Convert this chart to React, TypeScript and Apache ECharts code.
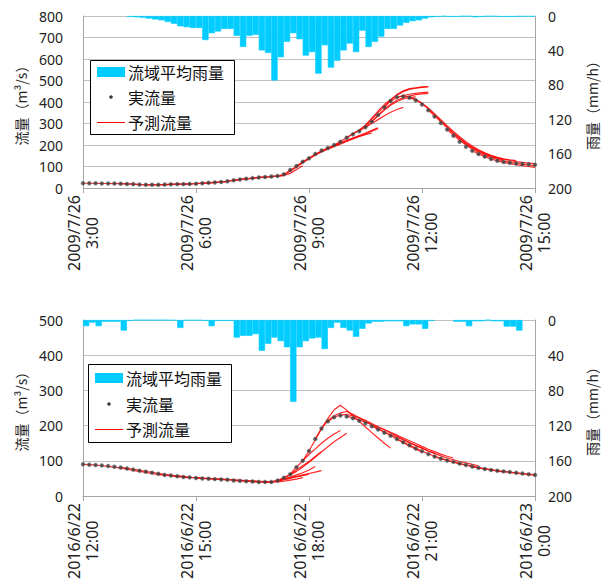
import React, { useEffect, useRef } from 'react';
import * as echarts from 'echarts';

// ---------- Data ----------
const xLabels1 = ['2009/7/26\n3:00', '2009/7/26\n6:00', '2009/7/26\n9:00', '2009/7/26\n12:00', '2009/7/26\n15:00'];
const xLabels2 = ['2016/6/22\n12:00', '2016/6/22\n15:00', '2016/6/22\n18:00', '2016/6/22\n21:00', '2016/6/23\n0:00'];

// 10-minute basin-average rainfall (mm/h), 72 intervals
const rain1 = [0, 0, 0, 0, 0, 0, 0, 1, 1.5, 2, 3, 4, 5, 7, 9, 12, 13, 14, 14, 28, 20, 18, 15, 15, 23, 36, 23, 22, 40, 43, 75, 48, 30, 20, 27, 46, 42, 67, 34, 60, 52, 40, 32, 42, 17, 36, 30, 24, 15, 15, 11, 8, 6, 5, 3, 1.5, 1, 0.5, 1, 1, 0.5, 0.5, 1.5, 1, 0.5, 0.5, 1, 1, 1, 0.7, 0.7, 0.7];
const rain2 = [7, 3, 7, 2, 2, 2, 12, 1, 0.3, 0.3, 0.3, 0.3, 0.3, 0.3, 0.5, 9, 0.5, 0.5, 0.5, 1, 7, 1, 1, 1, 20, 18, 18, 16, 35, 27, 20, 24, 31, 93, 31, 24, 21, 20, 33, 9, 3, 9, 12, 19, 10, 4, 2, 2, 1.5, 1.5, 1.5, 7, 5, 5, 10, 1, 0, 0, 0, 2, 2, 7, 1.5, 1.5, 0.3, 1.5, 1.5, 7.5, 7.5, 12, 0, 0];

// Observed flow (m3/s) every 10 minutes, 73 points
const obs1 = [22, 22, 22, 21, 21, 21, 20, 19, 18, 16, 15, 15, 15, 16, 17, 18, 18, 19, 20, 22, 24, 26, 28, 31, 36, 40, 43, 46, 49, 51, 53, 56, 64, 84, 102, 122, 138, 158, 174, 186, 200, 215, 234, 250, 264, 283, 308, 340, 375, 405, 423, 426, 420, 408, 388, 362, 333, 302, 272, 243, 215, 192, 173, 158, 146, 135, 127, 121, 117, 114, 112, 110, 108];
const obs2 = [90, 89, 88, 87, 85, 83, 81, 78, 75, 72, 69, 66, 63, 60, 58, 56, 54, 53, 51, 50, 49, 48, 47, 46, 44, 43, 42, 41, 40, 40, 40, 44, 52, 62, 82, 100, 128, 162, 192, 212, 224, 229, 226, 221, 214, 207, 198, 189, 180, 171, 162, 153, 144, 135, 127, 119, 112, 106, 101, 97, 92, 88, 84, 80, 77, 74, 72, 70, 68, 66, 64, 62, 60];

// Forecast runs: start index (10-min steps) and forecast values
const fcStarts1 = [0, 6, 12, 18, 24, 30, 34, 38, 40, 42, 44, 45, 46, 48, 50, 52, 55, 58, 62];
const fcValues1 = [
  [22, 22, 21, 21, 21, 20, 20, 19, 18, 16, 15, 15, 15, 16, 17, 17, 18, 18],
  [20, 19, 18, 16, 15, 15, 15, 16, 17, 18, 18, 19, 20, 22, 24, 26, 28, 30],
  [15, 16, 17, 18, 18, 19, 20, 22, 24, 26, 28, 31, 35, 39, 42, 45, 48, 50],
  [20, 22, 24, 26, 28, 31, 36, 40, 43, 46, 49, 51, 53, 55, 58, 68, 86, 104],
  [36, 40, 43, 46, 49, 51, 53, 55, 60, 78, 98, 118, 136, 154, 170, 184, 196, 208],
  [53, 56, 63, 82, 100, 120, 136, 154, 168, 180, 192, 204, 216, 228, 240, 252, 264, 276],
  [102, 122, 140, 158, 172, 184, 196, 208, 220, 232, 244, 256, 268, 280],
  [174, 186, 198, 210, 222, 232, 240, 248, 256],
  [200, 216, 234, 252, 270, 292, 320, 350, 380, 405, 420, 430, 436, 440, 444, 446],
  [234, 252, 268, 292, 325, 358, 388, 412, 432, 448, 458, 464, 468, 470],
  [264, 284, 310, 338, 366, 390, 408, 420, 428, 434, 438, 440],
  [283, 300, 318, 336, 352, 365, 375],
  [308, 336, 362, 385, 402, 414, 420, 424],
  [375, 408, 435, 452, 462, 466, 470, 472],
  [423, 428, 424, 412, 393, 368, 340, 312, 284, 256, 230, 206, 186, 170, 157, 146, 138, 131],
  [420, 410, 394, 372, 346, 318, 290, 263, 238, 215, 195, 178, 164, 152, 143, 136, 131, 127],
  [362, 336, 308, 280, 254, 230, 208, 190, 174, 161, 150, 141, 134, 128, 123, 119, 116, 113],
  [272, 246, 222, 200, 182, 166, 153, 142, 133, 126, 120, 115, 111, 107, 104],
  [173, 158, 146, 135, 126, 119, 113, 108, 104, 100, 96],
];

const fcStarts2 = [0, 6, 12, 18, 24, 27, 29, 30, 31, 33, 35, 37, 39, 42, 46, 50, 56, 62];
const fcValues2 = [
  [90, 89, 88, 86, 84, 82, 79, 76, 73, 70, 67, 64, 61, 59, 57, 55, 53, 52],
  [81, 79, 76, 73, 70, 67, 64, 61, 59, 57, 55, 53, 52, 50, 49, 48, 47, 46],
  [63, 61, 59, 57, 55, 53, 52, 51, 50, 49, 48, 47, 46, 45, 44, 43, 42, 41],
  [51, 50, 49, 48, 47, 46, 45, 44, 43, 42, 41, 40, 40, 40, 42, 45, 48, 52],
  [44, 43, 42, 41, 40, 40, 40, 42, 46, 50, 54, 58, 62],
  [41, 40, 40, 40, 43, 48, 52, 56, 60, 64, 68, 72],
  [40, 40, 43, 48, 54, 60, 66, 74, 84],
  [40, 44, 51, 60, 70, 82, 96, 110, 126],
  [44, 52, 62, 74, 86, 98, 112, 126, 140, 154, 166, 178],
  [62, 82, 100, 118, 134, 150, 164, 176, 186],
  [100, 128, 160, 192, 220, 245, 258, 244, 228, 212, 196, 180, 165, 150, 136],
  [162, 192, 214, 228, 236, 240, 232, 222, 212, 202, 192, 182, 172, 162, 152, 142, 133, 125],
  [212, 224, 230, 232, 228, 222, 215, 206, 197, 188, 179, 170, 161, 152, 144, 136, 128, 121],
  [227, 222, 216, 210, 203, 196, 189, 181, 173, 165, 157, 149, 141, 133, 126, 119, 113, 108],
  [198, 190, 182, 174, 167, 159, 151, 143, 136, 128, 121, 114, 108, 103, 98, 94, 90, 86],
  [162, 153, 144, 136, 128, 120, 113, 107, 102, 97, 92, 88, 84, 80, 77, 74, 71, 68],
  [112, 106, 101, 96, 92, 88, 84, 80, 77, 74, 71, 69, 67, 65, 63, 61, 60],
  [84, 80, 77, 74, 72, 70, 68, 66, 64, 62, 60],
];

const STEP = 10; // minutes
const FONT = "'Noto Sans', 'Noto Sans CJK JP', sans-serif";
const CJK = "'Noto Sans CJK JP', 'Noto Sans', sans-serif";
const RAIN_COLOR = '#00CCFF';
const AXIS_COLOR = '#A6A6A6';
const GRID_COLOR = '#C0C0C0';
const TEXT_COLOR = '#222222';

function buildOption() {
  const bins = rain1.map((_, i) => String(i));

  const valueX = (gridIndex: number, labels: string[]) => ({
    type: 'value',
    gridIndex,
    min: 0,
    max: 720,
    interval: 180,
    axisLine: { show: true, lineStyle: { color: AXIS_COLOR } },
    axisTick: { show: true, length: 5, lineStyle: { color: AXIS_COLOR } },
    splitLine: { show: false },
    axisLabel: {
      rotate: 90,
      align: 'center',
      verticalAlign: 'middle',
      margin: 45,
      fontSize: 16,
      lineHeight: 18,
      color: TEXT_COLOR,
      fontFamily: FONT,
      showMinLabel: true,
      showMaxLabel: true,
      formatter: (v: number) => labels[Math.round(v / 180)] ?? '',
    },
  });
  const catX = (gridIndex: number) => ({
    type: 'category',
    gridIndex,
    data: bins,
    boundaryGap: true,
    show: false,
  });
  const leftY = (gridIndex: number, max: number) => ({
    type: 'value',
    gridIndex,
    position: 'left',
    min: 0,
    max,
    interval: 100,
    name: '流量（m³/s）',
    nameLocation: 'middle',
    nameGap: 50,
    nameRotate: 90,
    nameTextStyle: { fontSize: 14, color: TEXT_COLOR, fontFamily: CJK },
    axisLine: { show: true, lineStyle: { color: AXIS_COLOR } },
    axisTick: { show: false },
    splitLine: { show: true, lineStyle: { color: GRID_COLOR } },
    axisLabel: { margin: 20, fontSize: 14, color: TEXT_COLOR, fontFamily: FONT },
  });
  const rightY = (gridIndex: number) => ({
    type: 'value',
    gridIndex,
    position: 'right',
    inverse: true,
    min: 0,
    max: 200,
    interval: 40,
    name: '雨量（mm/h）',
    nameLocation: 'middle',
    nameGap: 50,
    nameRotate: 90,
    nameTextStyle: { fontSize: 14, color: TEXT_COLOR, fontFamily: CJK },
    axisLine: { show: true, lineStyle: { color: AXIS_COLOR } },
    axisTick: { show: false },
    splitLine: { show: false },
    axisLabel: { margin: 13, fontSize: 14, color: TEXT_COLOR, fontFamily: FONT },
  });

  const series: any[] = [];
  const addPanel = (
    xv: number,
    xc: number,
    yl: number,
    yr: number,
    rain: number[],
    obs: number[],
    starts: number[],
    values: number[][]
  ) => {
    series.push({
      name: '流域平均雨量',
      type: 'bar',
      xAxisIndex: xc,
      yAxisIndex: yr,
      // zero-rain intervals are left empty so no outline is drawn for them
      data: rain.map((v) => (v > 0 ? v : '-')),
      barCategoryGap: '0%',
      itemStyle: { color: RAIN_COLOR, borderColor: RAIN_COLOR, borderWidth: 0.6 },
      z: 1,
    });
    starts.forEach((s, k) => {
      series.push({
        name: '予測流量',
        type: 'line',
        xAxisIndex: xv,
        yAxisIndex: yl,
        data: values[k].map((v, j) => [(s + j) * STEP, v]),
        symbol: 'none',
        lineStyle: { color: '#FF0000', width: 1.2, opacity: 0.85 },
        z: 2,
      });
    });
    series.push({
      name: '実流量',
      type: 'scatter',
      xAxisIndex: xv,
      yAxisIndex: yl,
      data: obs.map((v, i) => [i * STEP, v]),
      symbolSize: 4,
      itemStyle: { color: '#3a3a3a', borderColor: '#808080', borderWidth: 0.5 },
      z: 3,
    });
  };
  addPanel(0, 1, 0, 1, rain1, obs1, fcStarts1, fcValues1);
  addPanel(2, 3, 2, 3, rain2, obs2, fcStarts2, fcValues2);

  const legendBox = (x: number, y: number, w: number, h: number, rowY: number[]) => [
    { type: 'rect', z: 100, shape: { x: x + 0.5, y: y + 0.5, width: w, height: h }, style: { fill: '#ffffff', stroke: '#000000', lineWidth: 1 } },
    { type: 'rect', z: 101, shape: { x: x + 7, y: rowY[0] - 5, width: 28, height: 10 }, style: { fill: RAIN_COLOR } },
    { type: 'circle', z: 101, shape: { cx: x + 21, cy: rowY[1], r: 1.8 }, style: { fill: '#3a3a3a' } },
    { type: 'line', z: 101, shape: { x1: x + 7, y1: rowY[2] + 0.5, x2: x + 35, y2: rowY[2] + 0.5 }, style: { stroke: '#FF0000', lineWidth: 1 } },
    { type: 'text', z: 101, x: x + 38, y: rowY[0], style: { text: '流域平均雨量', fontSize: 16, fontFamily: CJK, fill: '#111', verticalAlign: 'middle' } },
    { type: 'text', z: 101, x: x + 38, y: rowY[1], style: { text: '実流量', fontSize: 16, fontFamily: CJK, fill: '#111', verticalAlign: 'middle' } },
    { type: 'text', z: 101, x: x + 38, y: rowY[2], style: { text: '予測流量', fontSize: 16, fontFamily: CJK, fill: '#111', verticalAlign: 'middle' } },
  ];

  return {
    animation: false,
    backgroundColor: '#ffffff',
    grid: [
      { left: 83, top: 16, width: 453, height: 172 },
      { left: 83, top: 320, width: 453, height: 178 },
    ],
    xAxis: [valueX(0, xLabels1), catX(0), valueX(1, xLabels2), catX(1)],
    yAxis: [leftY(0, 800), rightY(0), leftY(1, 500), rightY(1)],
    series,
    graphic: [
      ...legendBox(90, 60, 144, 74, [72, 97, 122]),
      ...legendBox(88, 364, 143, 78, [378, 404, 429]),
    ],
  };
}

export default function App() {
  const ref = useRef<HTMLDivElement>(null);
  useEffect(() => {
    if (!ref.current) return;
    const chart = echarts.init(ref.current, undefined, { renderer: 'svg' });
    chart.setOption(buildOption() as any);
    return () => chart.dispose();
  }, []);
  return (
    <div
      ref={ref}
      style={{ position: 'fixed', left: 0, top: 0, width: 607, height: 582, background: '#fff' }}
    />
  );
}
